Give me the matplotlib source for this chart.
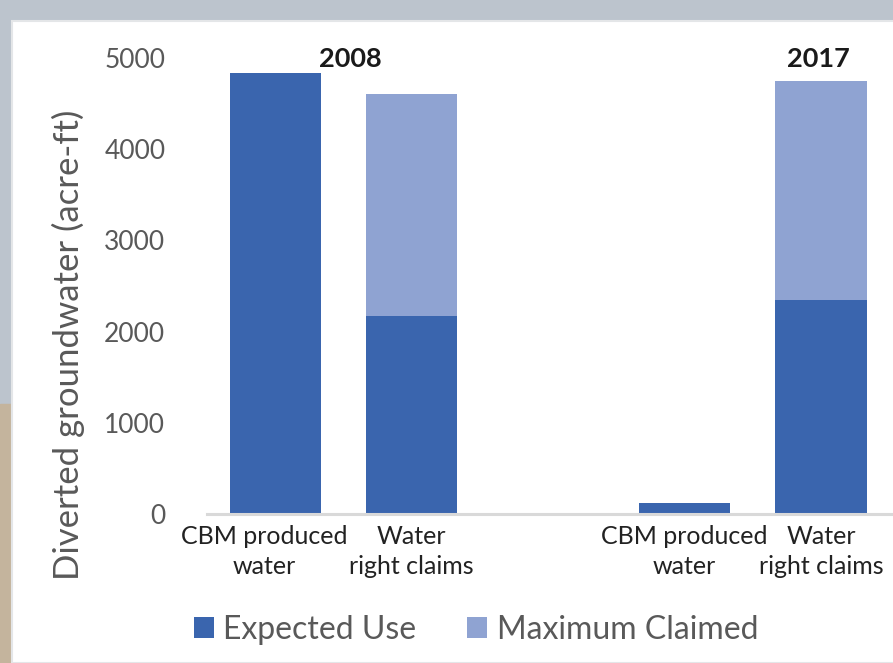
import numpy as np
import matplotlib
matplotlib.use("Agg")
import matplotlib.pyplot as plt
import matplotlib.transforms as mtransforms
from matplotlib.patches import Rectangle

plt.rcParams["font.family"] = ["Lato", "DejaVu Sans"]

# data (acre-ft)
categories = ["CBM produced\nwater", "Water\nright claims", "CBM produced\nwater", "Water\nright claims"]
positions = [0, 1, 3, 4]
expected_use = [4840, 2175, 120, 2350]
total_claimed = [4840, 4605, 120, 4750]
max_claimed = [t - e for t, e in zip(total_claimed, expected_use)]
years = ["2008", "2017"]
year_x = [0.55, 3.98]

DARK = "#3A65AE"; LIGHT = "#8FA3D2"; GREY = "#595959"

W, H = 893, 663
fig = plt.figure(figsize=(W/100, H/100), dpi=100)
fig.patch.set_facecolor("#BCC4CD")
# tan strip lower left, white panel
fig.patches.append(Rectangle((0, 0), 12/W, 1-404/H, transform=fig.transFigure, color="#C4B49D", zorder=-10))
fig.patches.append(Rectangle((12/W, 0), 1, 1-21/H, transform=fig.transFigure, facecolor="white",
                             edgecolor="#E4E6E8", lw=1.5, zorder=-10))

ax = fig.add_axes([207/W, 1-514/H, 686/W, 456/H])
ax.set_facecolor("none")
b1 = ax.bar(positions, expected_use, width=0.67, color=DARK, label="Expected Use", zorder=2)
b2 = ax.bar(positions, max_claimed, bottom=expected_use, width=0.67, color=LIGHT,
            label="Maximum Claimed", zorder=2)

ax.set_xlim(-0.5, 4.526); ax.set_ylim(0, 5000)
ax.set_yticks(range(0, 5001, 1000))
ax.tick_params(axis="y", length=0, pad=30, labelsize=19, labelcolor=GREY)
ax.set_xticks(positions)
ax.set_xticklabels(categories, fontsize=18, color="#222222", linespacing=1.35)
ax.tick_params(axis="x", length=0, pad=8)
# first label sits a bit left of its bar in the original
lbl = ax.get_xticklabels()[0]
lbl.set_transform(lbl.get_transform() + mtransforms.ScaledTranslation(-11/100, 0, fig.dpi_scale_trans))
for s in ["top", "right", "left"]:
    ax.spines[s].set_visible(False)
ax.spines["bottom"].set_color("#D9D9D9"); ax.spines["bottom"].set_linewidth(2.2)

for yr, x in zip(years, year_x):
    ax.text(x, 4990, yr, ha="center", va="center", fontsize=19.5, fontweight="bold",
            color="#1A1A1A", clip_on=False)

fig.text(68/W, 1-345/H, "Diverted groundwater (acre-ft)", rotation=90, ha="center", va="center",
         fontsize=25, color=GREY)

fig.legend(handles=[b1, b2], loc="center", bbox_to_anchor=(476/W, 1-630/H), ncol=2, frameon=False,
           fontsize=23, labelcolor=GREY, handlelength=0.62, handleheight=0.62,
           handletextpad=0.3, columnspacing=1.6)

fig.savefig("out.png", dpi=100)
